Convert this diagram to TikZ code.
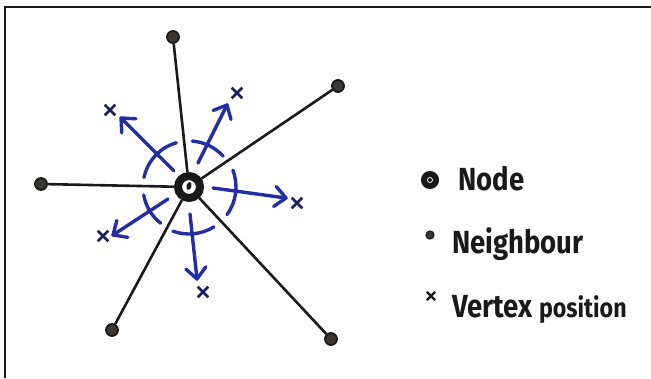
\documentclass[tikz,border=0pt]{standalone}
\usepackage{fontspec}
\setmainfont{Fira Sans}
\usetikzlibrary{calc,shapes.misc,shapes.geometric}
\definecolor{ink}{RGB}{25,25,25}
\definecolor{pen}{RGB}{35,45,165}
\definecolor{navy}{RGB}{30,30,90}
\definecolor{dotfill}{RGB}{60,55,50}
\begin{document}
\begin{tikzpicture}[x=1pt,y=-1pt,
  nbr/.style={circle, fill=dotfill, draw=ink, line width=1.8pt, minimum size=12pt, inner sep=0},
  hub/.style={circle, fill=white, draw=ink, line width=8pt, minimum size=22pt, inner sep=0},
  spoke/.style={ink, line width=2.6pt},
  swarc/.style={pen, line width=3.4pt, line cap=round, line join=round},
  vpos/.style={cross out, draw=navy, line width=2.6pt, minimum size=8pt, inner sep=0},
  legtext/.style={anchor=base west, font=\fontsize{32}{34}\selectfont\bfseries, text=ink, inner sep=0}
]
\useasboundingbox (0,0) rectangle (651,378);
\draw[ink, line width=2.6pt] (5,378) -- (5,7) -- (651,7);

% hub and neighbours
\node[hub] (c) at (189,187) {};
\node[ellipse, fill=ink, minimum width=5pt, minimum height=8pt, inner sep=0, rotate=-15] (cdot) at (189,186) {};
\node[nbr] (n1) at (173,37) {};
\node[nbr] (n2) at (338,86) {};
\node[nbr] (n3) at (41,184) {};
\node[nbr] (n4) at (112,330) {};
\node[nbr] (n5) at (331,339) {};
\foreach \n in {n1,n2,n3,n4,n5} \draw[spoke] (c) -- (\n);

% movement arrows (shaft plus open barbed head)
\coordinate (s1) at (174,171); \coordinate (t1) at (121,118);
\coordinate (s2) at (198,163); \coordinate (t2) at (227,105);
\coordinate (s3) at (213,188); \coordinate (t3) at (286,198);
\coordinate (s4) at (168,199); \coordinate (t4) at (113,235);
\coordinate (s5) at (190,214); \coordinate (t5) at (197,279);
\foreach \k in {1,...,5} {
  \draw[swarc] (s\k) -- (t\k);
  \draw[swarc] ($(t\k)!15pt!42:(s\k)$) -- (t\k) -- ($(t\k)!15pt!-42:(s\k)$);
}

% arcs around the node
\draw[swarc] (c.center) ++(-106:46) arc[start angle=-106, end angle=-168, radius=46];
\draw[swarc] (c.center) ++(-42:46) arc[start angle=-42, end angle=-86, radius=46];
\draw[swarc] (c.center) ++(36:47) arc[start angle=36, end angle=-21, radius=47];
\draw[swarc] (c.center) ++(-190:46) arc[start angle=-190, end angle=-232, radius=46];
\draw[swarc] (c.center) ++(-250:47) arc[start angle=-250, end angle=-302, radius=47];

% vertex positions
\node[vpos] (x1) at (110,110) {};
\node[vpos] (x2) at (237,93) {};
\node[vpos] (x3) at (297,203) {};
\node[vpos] (x4) at (103,236) {};
\node[vpos] (x5) at (203,292) {};

% legend
\node[circle, fill=white, draw=ink, line width=6pt, minimum size=12pt, inner sep=0] (lnode) at (430,180) {};
\node[circle, fill=ink, minimum size=4pt, inner sep=0] (lnodedot) at (430,180) {};
\node[nbr, minimum size=8pt, line width=1.2pt] (lnbr) at (430,235) {};
\node[cross out, draw=ink, line width=2.4pt, minimum size=6pt, inner sep=0] (lx) at (431,296) {};
\node[legtext] (tnode) at (458,190) {\scalebox{0.86}[1]{Node}};
\node[legtext] (tnbr) at (452,253) {\scalebox{0.86}[1]{Neighbour}};
\node[legtext] (tvert) at (452,317) {\scalebox{0.86}[1]{Vertex {\fontsize{27}{29}\selectfont position}}};
\end{tikzpicture}
\end{document}
